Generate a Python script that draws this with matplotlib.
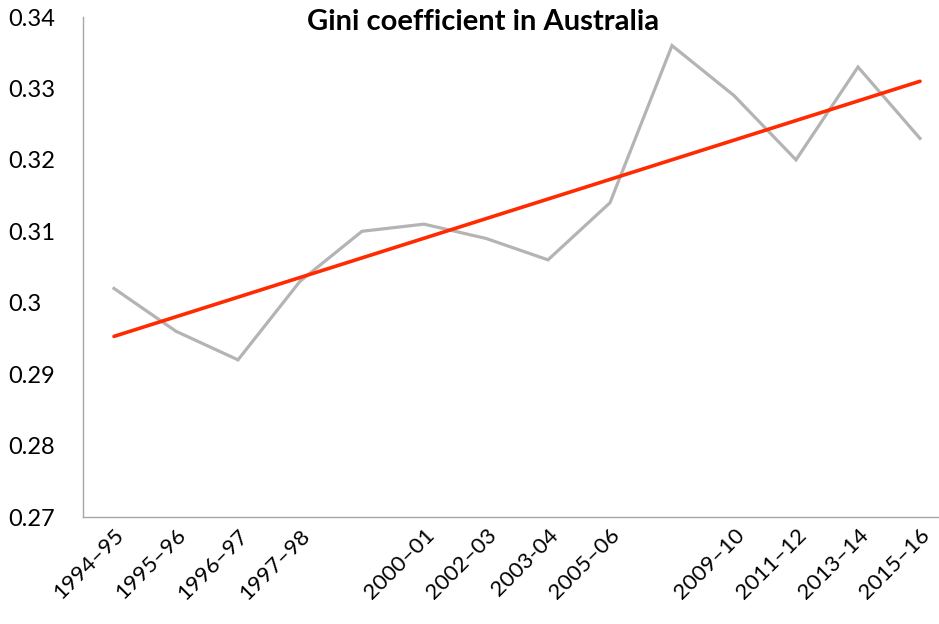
import numpy as np
import matplotlib
matplotlib.use('Agg')
import matplotlib.pyplot as plt

# Gini coefficient by survey year (blank labels where the year is skipped on the axis)
years = ['1994–95', '1995–96', '1996–97', '1997–98', '', '2000–01', '2002–03',
         '2003-04', '2005–06', '', '2009–10', '2011–12', '2013–14', '2015–16']
gini = [0.302, 0.296, 0.292, 0.303, 0.310, 0.311, 0.309,
        0.306, 0.314, 0.336, 0.329, 0.320, 0.333, 0.323]
y_ticks = [0.27, 0.28, 0.29, 0.30, 0.31, 0.32, 0.33, 0.34]
y_labels = ['0.27', '0.28', '0.29', '0.3', '0.31', '0.32', '0.33', '0.34']

plt.rcParams['font.family'] = ['Lato', 'DejaVu Sans']

fig = plt.figure(figsize=(9.39, 6.24), dpi=100)
ax = fig.add_axes([83 / 939, 1 - 517 / 624, 856 / 939, 500 / 624])

x = np.arange(len(gini))
ax.plot(x, gini, color='#b4b4b4', linewidth=2.3, solid_joinstyle='miter', zorder=2)

# linear trend line
slope, intercept = np.polyfit(x, gini, 1)
ax.plot(x, slope * x + intercept, color='#ff2a00', linewidth=2.6,
        solid_capstyle='round', zorder=3)

ax.set_xlim(-0.5, (939 - 83) / 62 - 0.5)
ax.set_ylim(0.27, 0.34)

ax.set_xticks(x)
ax.set_xticklabels(years, rotation=45, ha='right', va='top',
                   rotation_mode='anchor', fontsize=16)
ax.set_yticks(y_ticks)
ax.set_yticklabels(y_labels, fontsize=17, ha='left')
ax.tick_params(axis='y', length=0, pad=54)
ax.tick_params(axis='x', length=0, pad=6)

for side in ['top', 'right']:
    ax.spines[side].set_visible(False)
for side in ['left', 'bottom']:
    ax.spines[side].set_color('#a6a6a6')
    ax.spines[side].set_linewidth(1.0)

fig.text(483 / 939, 1 - 22 / 624, 'Gini coefficient in Australia',
         ha='center', va='center', fontsize=21, fontweight='bold')

fig.savefig('out.png', dpi=100, facecolor='white')
